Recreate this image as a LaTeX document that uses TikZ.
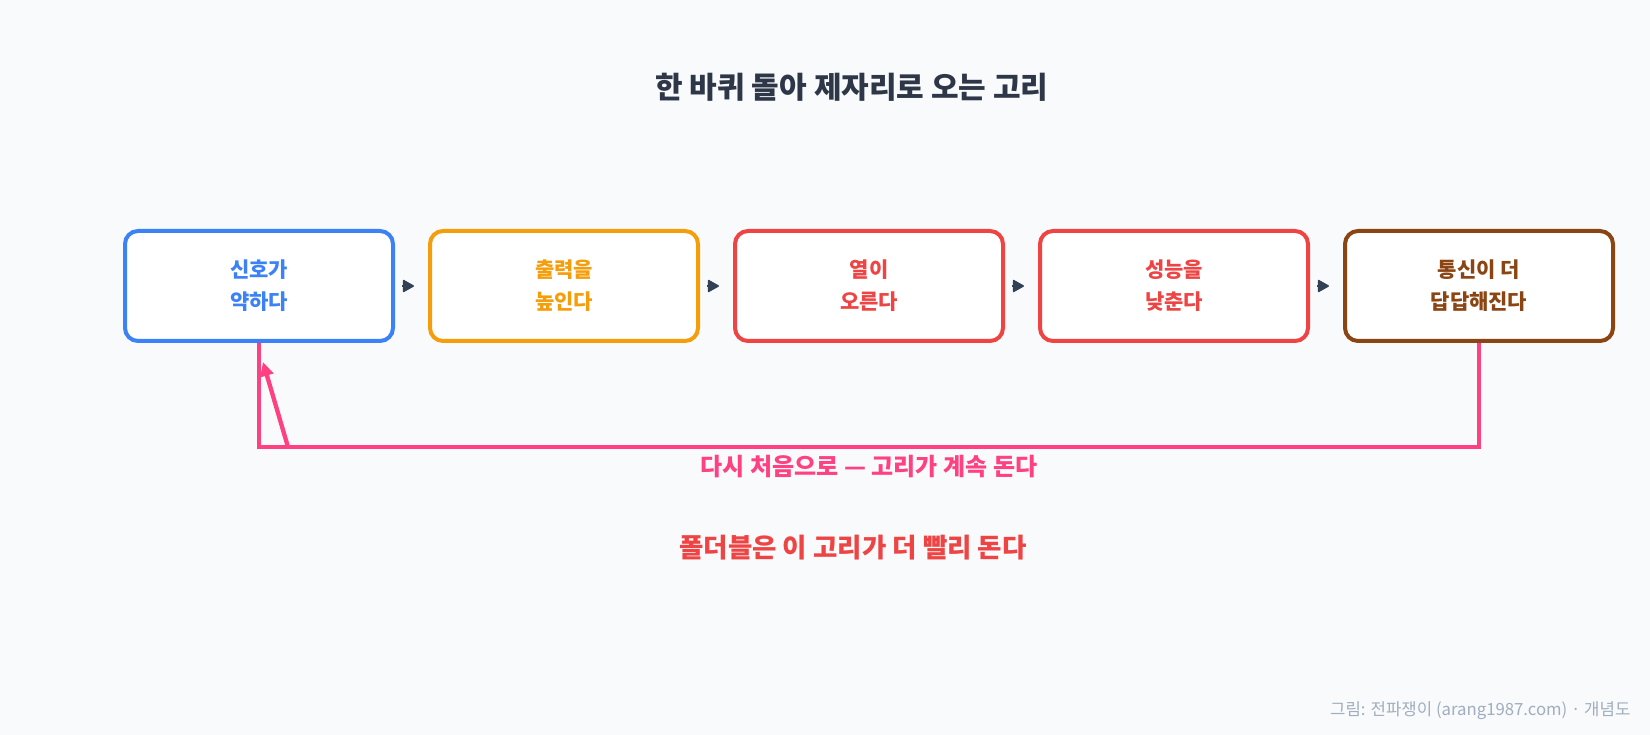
\documentclass[tikz,border=0pt]{standalone}
\usepackage{fontspec}
\setmainfont{Noto Sans CJK KR}
\usetikzlibrary{positioning,arrows.meta}

\definecolor{bgcol}{HTML}{F8FAFC}
\definecolor{titlecol}{HTML}{2D3748}
\definecolor{bluecol}{HTML}{3B82F6}
\definecolor{orangecol}{HTML}{F59E0B}
\definecolor{redcol}{HTML}{EF4444}
\definecolor{browncol}{HTML}{8B4513}
\definecolor{pinkcol}{HTML}{FF4081}
\definecolor{arrowcol}{HTML}{334155}
\definecolor{footcol}{HTML}{A0AEC0}

\begin{document}
\begin{tikzpicture}[x=1pt,y=-1pt,node distance=33pt,
    loop box/.style={draw,line width=4pt,rounded corners=13pt,fill=white,
      minimum width=268pt,minimum height=110pt,align=center,
      font=\fontsize{21}{32}\selectfont\bfseries},
    step arrow/.style={-{Triangle[length=12pt,width=13pt,round]},line width=1.5pt,draw=arrowcol,fill=arrowcol}]

  \fill[bgcol] (0,0) rectangle (1650,735);
  \useasboundingbox (0,0) rectangle (1650,735);

  \node[font=\fontsize{30}{34}\selectfont\bfseries,text=titlecol] (title) at (852,87) {한 바퀴 돌아 제자리로 오는 고리};

  \node[loop box,draw=bluecol,text=bluecol] (weak) at (259,286) {신호가\\약하다};
  \node[loop box,draw=orangecol,text=orangecol] (power) [right=of weak] {출력을\\높인다};
  \node[loop box,draw=redcol,text=redcol] (heat) [right=of power] {열이\\오른다};
  \node[loop box,draw=redcol,text=redcol] (slow) [right=of heat] {성능을\\낮춘다};
  \node[loop box,draw=browncol,text=browncol] (lag) [right=of slow] {통신이 더\\답답해진다};

  \draw[step arrow] ([xshift=7pt]weak.east) -- ([xshift=19pt]weak.east);
  \draw[step arrow] ([xshift=7pt]power.east) -- ([xshift=19pt]power.east);
  \draw[step arrow] ([xshift=7pt]heat.east) -- ([xshift=19pt]heat.east);
  \draw[step arrow] ([xshift=7pt]slow.east) -- ([xshift=19pt]slow.east);

  % back to the start
  \coordinate (turn) at (weak.south |- 0,447);
  \coordinate (kink) at (288,447);
  \coordinate (tip) at (263,362);
  \draw[pinkcol,line width=4.3pt] (lag.south) -- (lag.south |- turn) -- (turn) -- (weak.south);
  \draw[pinkcol,line width=4.3pt,-{Triangle[length=14pt,width=13pt]}] (kink) -- (tip);

  \node[font=\fontsize{24}{27}\selectfont\bfseries,text=pinkcol] (again) at (869,467) {다시 처음으로 — 고리가 계속 돈다};
  \node[font=\fontsize{26.5}{30}\selectfont\bfseries,text=redcol] (fold) at (853,548) {폴더블은 이 고리가 더 빨리 돈다};
  \node[font=\fontsize{16.75}{20}\selectfont,text=footcol,anchor=east] (credit) at (1634,711) {그림: 전파쟁이 (arang1987.com) · 개념도};

\end{tikzpicture}
\end{document}
